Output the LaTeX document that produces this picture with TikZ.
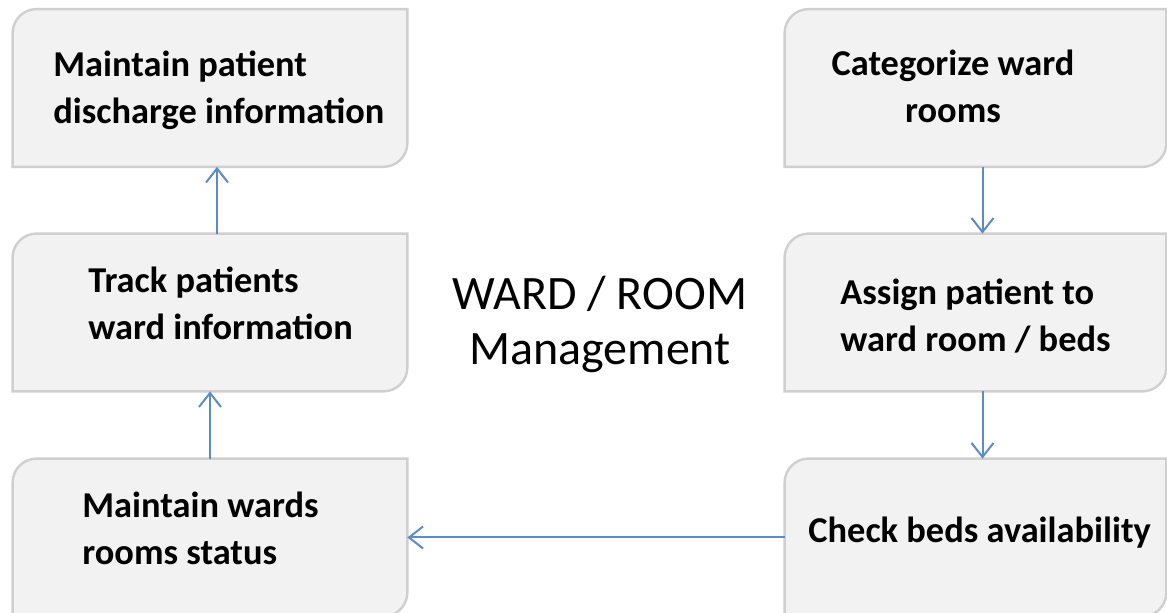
\documentclass[tikz,border=0pt]{standalone}
\usepackage{fontspec}
\setmainfont{Carlito}
\usetikzlibrary{arrows.meta}
\definecolor{boxfill}{HTML}{F2F2F2}
\definecolor{boxedge}{HTML}{CFCFCF}
\definecolor{flowblue}{HTML}{5B8BC9}

\begin{document}
\begin{tikzpicture}[x=0.5pt, y=0.5pt]
	\tikzset{caseL/.style={minimum width=197pt, minimum height=78.5pt, inner sep=0pt},
		caseR/.style={minimum width=190.5pt, minimum height=78.5pt, inner sep=0pt},
		contour/.style={fill=boxfill, draw=boxedge, line width=1.2pt},
		texte/.style={font=\fontsize{18.2}{23.5}\selectfont\bfseries, inner sep=0pt, align=left, anchor=base west},
		fleche/.style={draw=flowblue, line width=1pt, -{Straight Barb[length=7pt, width=11pt]}}};

	\useasboundingbox (0,0) rectangle (1167,613);
	\clip (0,0) rectangle (1167,613);

	\node[caseL] (dis) at ( 210,  525  ) {};
	\node[caseL] (trk) at ( 210,  300.5) {};
	\node[caseL] (sts) at ( 210,   75.5) {};
	\node[caseR] (cat) at ( 975.5, 525  ) {};
	\node[caseR] (asg) at ( 975.5, 300.5) {};
	\node[caseR] (chk) at ( 975.5,  75.5) {};

	% rounded top left and bottom right corners only
	\foreach \b in {dis, trk, sts, cat, asg, chk}
		\draw[contour] (\b.south west) -- ([yshift=-12pt]\b.north west)
			arc[start angle=180, end angle=90, radius=12pt] -- (\b.north east)
			-- ([yshift=12pt]\b.south east) arc[start angle=0, end angle=-90, radius=12pt] -- cycle;

	% base = baseline of the last line
	\node[texte] (tdis) at (  53, 489) {Maintain patient\\discharge information};
	\node[texte] (ttrk) at (  88, 273) {Track patients\\ward information};
	\node[texte] (tsts) at (  82,  48) {Maintain wards\\rooms status};
	\node[texte, align=center, anchor=base] (tcat) at ( 953, 490) {Categorize ward\\rooms};
	\node[texte] (tasg) at ( 840, 261) {Assign patient to\\ward room / beds};
	\node[texte] (tchk) at ( 808,  70) {Check beds availability};

	\node[font=\fontsize{24}{27.5}\selectfont, inner sep=0pt, align=center, anchor=base] (titre) at (600, 248) {WARD / ROOM\\Management};

	\draw[fleche] ([xshift=3.5pt]trk.north) -- ([xshift=3.5pt]dis.south);
	\draw[fleche] (sts.north) -- (trk.south);
	\draw[fleche] ([xshift=3.5pt]cat.south) -- ([xshift=3.5pt]asg.north);
	\draw[fleche] ([xshift=3.5pt]asg.south) -- ([xshift=3.5pt]chk.north);
	\draw[fleche] (chk.west) -- (sts.east);
\end{tikzpicture}
\end{document}
